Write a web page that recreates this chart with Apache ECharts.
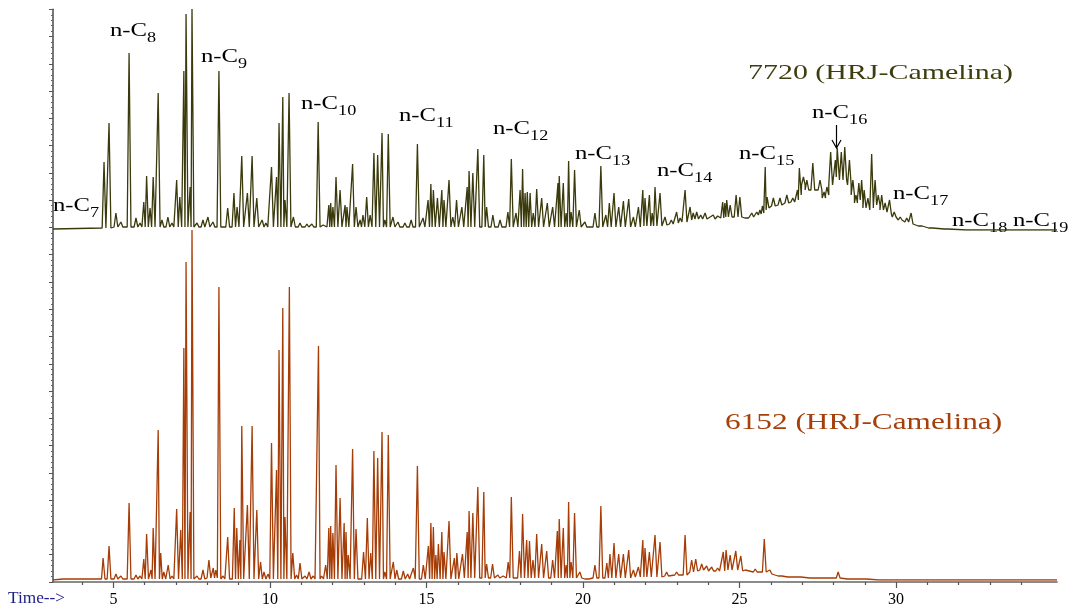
<!DOCTYPE html>
<html>
<head>
<meta charset="utf-8">
<title>GC traces - HRJ-Camelina</title>
<script src="https://cdn.jsdelivr.net/npm/echarts@6/dist/echarts.min.js"></script>
<style>
  html, body { margin: 0; padding: 0; background: #fff; }
  #chart { width: 1074px; height: 610px; }
</style>
</head>
<body>
<div id="chart"></div>
<script>
// retention time window (min)
const timeMin = 3.07
const timeMax = 35.14
const majorTicks = [5, 10, 15, 20, 25, 30]
const minorTicks = [4, 6, 7, 8, 9, 11, 12, 13, 14, 16, 17, 18, 19, 21, 22, 23, 24, 26, 27, 28, 29, 31, 32, 33, 34]

// peaks of 7720 (HRJ-Camelina): [time, top, baseline under the peak]
const upperPeaks = [
  [4.70, 68, 2], [4.86, 107, 2], [5.08, 17, 3], [5.24, 8, 3], [5.50, 177, 3], [5.72, 12, 3], [5.85, 7, 3],
  [5.97, 28, 3], [6.06, 54, 3], [6.17, 22, 3], [6.27, 53, 3], [6.43, 137, 3], [6.55, 10, 3], [6.74, 13, 3],
  [6.87, 7, 3], [7.02, 50, 3], [7.12, 33, 3], [7.25, 159, 3], [7.32, 216, 3], [7.45, 43, 3], [7.51, 221, 3],
  [7.67, 7, 3], [7.86, 10, 3], [8.02, 13, 3], [8.18, 8, 3], [8.37, 159, 3], [8.65, 22, 3], [8.85, 37, 3],
  [8.95, 23, 3], [9.10, 74, 3], [9.28, 37, 3], [9.43, 74, 3], [9.58, 32, 3], [9.75, 10, 3], [9.87, 7, 3],
  [10.05, 63, 3], [10.21, 53, 3], [10.29, 107, 3], [10.41, 133, 3], [10.48, 30, 3], [10.61, 137, 3],
  [10.75, 13, 3], [10.96, 7, 3], [11.18, 6, 3], [11.34, 6, 3], [11.54, 108, 3], [11.70, 5, 3],
  [11.88, 25, 3], [11.94, 27, 3], [12.01, 23, 3], [12.11, 53, 3], [12.24, 40, 3], [12.40, 25, 3],
  [12.46, 23, 3], [12.64, 66, 3], [12.75, 23, 3], [12.88, 10, 3], [12.97, 15, 3], [13.09, 33, 3],
  [13.20, 15, 3], [13.32, 77, 3], [13.44, 75, 3], [13.58, 97, 3], [13.67, 10, 3], [13.78, 96, 3],
  [13.93, 13, 3], [14.09, 8, 3], [14.31, 7, 3], [14.51, 10, 3], [14.71, 86, 3], [14.89, 12, 3],
  [15.05, 30, 3], [15.14, 46, 3], [15.22, 40, 3], [15.35, 32, 3], [15.49, 40, 3], [15.56, 30, 3],
  [15.72, 50, 3], [15.84, 13, 3], [15.96, 30, 3], [16.13, 23, 3], [16.30, 43, 3], [16.36, 59, 3],
  [16.48, 57, 3], [16.64, 81, 3], [16.83, 75, 3], [16.92, 23, 3], [17.12, 15, 3], [17.35, 10, 3],
  [17.60, 18, 3], [17.71, 71, 3], [17.86, 17, 3], [17.99, 40, 3], [18.07, 61, 3], [18.15, 37, 3],
  [18.22, 38, 3], [18.31, 37, 3], [18.41, 17, 3], [18.52, 41, 3], [18.68, 32, 3], [18.86, 27, 3],
  [19.03, 23, 3], [19.20, 47, 3], [19.24, 54, 3], [19.37, 47, 3], [19.46, 17, 3], [19.54, 69, 3],
  [19.62, 18, 3], [19.73, 60, 3], [19.88, 20, 3], [20.06, 8, 3], [20.38, 17, 3], [20.57, 64, 3],
  [20.73, 15, 3], [20.84, 27, 3], [20.99, 37, 3], [21.14, 23, 3], [21.29, 29, 3], [21.46, 31, 3],
  [21.61, 13, 3], [21.77, 23, 3], [21.91, 40, 4], [21.98, 32, 4], [22.12, 35, 4], [22.21, 17, 4],
  [22.30, 43, 4], [22.46, 37, 4], [22.62, 13, 5], [22.82, 10, 6], [22.99, 18, 7], [23.10, 12, 8],
  [23.26, 40, 8], [23.42, 23, 10], [23.52, 17, 11], [23.63, 18, 11], [23.76, 15, 11], [23.90, 17, 11],
  [24.06, 13, 11], [24.16, 15, 11], [24.30, 14, 12], [24.46, 28, 12], [24.53, 27, 13], [24.59, 30, 13],
  [24.70, 25, 13], [24.89, 35, 13], [25.01, 33, 13], [25.23, 14, 12], [25.39, 17, 13], [25.55, 18, 15],
  [25.65, 20, 16], [25.73, 24, 17], [25.82, 63, 20], [25.88, 33, 22], [26.08, 32, 24], [26.29, 32, 25],
  [26.51, 35, 27], [26.70, 32, 28], [26.85, 40, 30], [26.91, 62, 35], [27.04, 53, 45], [27.15, 50, 40],
  [27.34, 67, 40], [27.57, 50, 40], [27.70, 38, 32], [27.79, 43, 35], [27.91, 78, 45], [28.06, 70, 53],
  [28.12, 82, 55], [28.25, 78, 50], [28.36, 83, 50], [28.51, 70, 45], [28.62, 50, 35], [28.72, 35, 27],
  [28.81, 47, 30], [28.90, 50, 30], [28.98, 40, 22], [29.10, 32, 20], [29.22, 76, 22], [29.33, 50, 25],
  [29.43, 35, 25], [29.54, 35, 20], [29.65, 27, 18], [29.79, 30, 16], [29.94, 18, 13], [30.13, 13, 10],
  [30.34, 12, 8], [30.48, 17, 6], [30.77, 5, 4], [31.10, 4, 2], [31.60, 2, 1], [32.30, 1, 0]
]

// peaks of 6152 (HRJ-Camelina): [time, top, baseline under the peak]
const lowerPeaks = [
  [3.45, 3, 1], [3.75, 2, 1], [4.57, 3, 1], [4.67, 22, 1], [4.86, 34, 1], [5.08, 6, 1], [5.24, 4, 1],
  [5.50, 77, 1], [5.72, 5, 1], [5.85, 4, 1], [5.97, 21, 1], [6.06, 46, 1], [6.20, 10, 1], [6.27, 52, 1],
  [6.43, 150, 1], [6.51, 27, 1], [6.61, 8, 1], [6.75, 15, 1], [6.87, 4, 1], [7.02, 71, 1], [7.15, 50, 1],
  [7.25, 232, 1], [7.32, 318, 1], [7.45, 68, 1], [7.51, 350, 1], [7.67, 4, 1], [7.86, 10, 1], [8.05, 20, 2],
  [8.19, 12, 2], [8.27, 10, 2], [8.37, 293, 1], [8.50, 4, 1], [8.65, 43, 1], [8.86, 72, 1], [8.94, 52, 1],
  [9.04, 40, 1], [9.10, 154, 1], [9.28, 75, 1], [9.43, 154, 1], [9.58, 70, 1], [9.70, 18, 1], [9.81, 8, 1],
  [9.94, 6, 1], [10.05, 137, 1], [10.21, 110, 1], [10.29, 230, 1], [10.41, 272, 1], [10.48, 63, 1],
  [10.62, 293, 1], [10.73, 27, 1], [10.85, 5, 1], [10.96, 17, 1], [11.12, 4, 1], [11.25, 8, 1],
  [11.38, 4, 1], [11.55, 234, 1], [11.65, 4, 1], [11.78, 15, 1], [11.88, 52, 1], [11.94, 54, 1],
  [12.01, 47, 1], [12.11, 115, 1], [12.24, 82, 1], [12.37, 57, 1], [12.43, 48, 1], [12.50, 25, 1],
  [12.64, 131, 1], [12.75, 51, 1], [12.87, 3, 1], [12.99, 28, 1], [13.11, 62, 1], [13.22, 27, 1],
  [13.32, 129, 1], [13.44, 122, 1], [13.58, 148, 1], [13.67, 8, 1], [13.78, 145, 1], [13.94, 18, 1],
  [14.05, 10, 1], [14.26, 9, 1], [14.40, 6, 1], [14.58, 12, 1], [14.71, 114, 1], [14.90, 15, 1],
  [15.06, 34, 1], [15.14, 57, 1], [15.22, 53, 1], [15.30, 25, 1], [15.38, 36, 1], [15.49, 48, 1],
  [15.56, 28, 1], [15.72, 59, 1], [15.89, 22, 1], [15.97, 27, 1], [16.15, 26, 2], [16.30, 48, 2],
  [16.36, 69, 2], [16.48, 67, 2], [16.64, 93, 2], [16.83, 88, 2], [16.92, 16, 2], [17.11, 16, 2],
  [17.28, 5, 2], [17.45, 4, 2], [17.61, 18, 2], [17.71, 83, 2], [17.97, 29, 2], [18.07, 66, 2],
  [18.20, 40, 2], [18.29, 39, 2], [18.40, 20, 2], [18.52, 46, 2], [18.68, 36, 2], [18.84, 29, 2],
  [19.03, 20, 2], [19.18, 49, 2], [19.24, 61, 2], [19.37, 52, 2], [19.46, 15, 2], [19.54, 78, 2],
  [19.62, 18, 2], [19.73, 67, 2], [19.90, 8, 2], [20.12, 2, 1], [20.38, 15, 2], [20.57, 74, 2],
  [20.76, 17, 2], [20.86, 26, 2], [20.99, 37, 2], [21.14, 26, 2], [21.29, 26, 2], [21.46, 30, 2],
  [21.61, 10, 3], [21.77, 13, 3], [21.91, 40, 3], [21.98, 32, 3], [22.12, 28, 3], [22.30, 45, 3],
  [22.46, 38, 3], [22.67, 8, 4], [22.99, 8, 5], [23.26, 45, 5], [23.47, 20, 8], [23.60, 21, 9],
  [23.79, 16, 10], [23.95, 14, 9], [24.11, 13, 9], [24.30, 12, 9], [24.48, 28, 9], [24.57, 30, 10],
  [24.70, 25, 10], [24.88, 29, 10], [25.04, 24, 9], [25.18, 10, 8], [25.50, 11, 8], [25.79, 41, 8],
  [25.97, 10, 6], [26.29, 5, 4], [26.60, 5, 3], [26.90, 5, 3], [27.30, 3, 2], [27.70, 3, 2],
  [28.15, 8, 2], [28.50, 3, 1], [29.00, 2, 1], [29.50, 1, 0]
]

// n-alkane labels on the upper trace: [carbon number, left px, baseline px]
const alkaneLabels = [
  [7, 53, 212], [8, 110, 37], [9, 201, 63], [10, 301, 110], [11, 399, 122], [12, 493, 135],
  [13, 575, 160], [14, 657, 177], [15, 739, 160], [16, 812, 119], [17, 893, 200], [18, 952, 227], [19, 1013, 227]
]

const serif = '"Liberation Serif", "DejaVu Serif", serif'
const upperColor = '#3a3a0c'
const lowerColor = '#a63c06'
const peakHalfWidth = 0.06

// turn the peak list into a polyline: each peak is a narrow spike standing on its own baseline
function buildTrace(peaks, startLevel) {
  const pts = [[timeMin, startLevel]]
  peaks.forEach((p, i) => {
    const prev = i > 0 ? peaks[i - 1][0] : timeMin
    const next = i < peaks.length - 1 ? peaks[i + 1][0] : timeMax
    const left = Math.max(p[0] - peakHalfWidth, (prev + p[0]) / 2)
    const right = Math.min(p[0] + peakHalfWidth, (p[0] + next) / 2)
    pts.push([left, p[2]], [p[0], p[1]], [right, p[2]])
  })
  pts.push([timeMax, 0])
  return pts
}

const chart = echarts.init(document.getElementById('chart'))

const hiddenX = (grid) => ({
  type: 'value', gridIndex: grid, min: timeMin, max: timeMax,
  show: false, splitLine: { show: false }
})

const graphics = []
alkaneLabels.forEach(([n, x, base]) => {
  graphics.push({
    type: 'text',
    x: x,
    y: base - 6,
    scaleX: 1.3,
    style: {
      text: '{m|n-C}{s|' + n + '}',
      fill: '#000',
      align: 'left',
      verticalAlign: 'middle',
      textAlign: 'left',
      textVerticalAlign: 'middle',
      rich: {
        m: { font: '19px ' + serif, fill: '#000' },
        s: { font: '14px ' + serif, fill: '#000', padding: [14, 0, 0, 0] }
      }
    }
  })
})
// arrow pointing at n-C16
graphics.push({
  type: 'polyline',
  shape: { points: [[836.5, 125], [836.5, 148]] },
  style: { stroke: '#000', lineWidth: 1.2, fill: null }
})
graphics.push({
  type: 'polyline',
  shape: { points: [[832, 140], [836.5, 148], [841, 140]] },
  style: { stroke: '#000', lineWidth: 1.2, fill: null }
})
graphics.push({
  type: 'text', x: 748, y: 73, scaleX: 1.36,
  style: { text: '7720 (HRJ-Camelina)', font: '22px ' + serif, fill: '#3d3d10', verticalAlign: 'middle', textVerticalAlign: 'middle' }
})
graphics.push({
  type: 'text', x: 725, y: 423, scaleX: 1.36,
  style: { text: '6152 (HRJ-Camelina)', font: '23px ' + serif, fill: '#a5400c', verticalAlign: 'middle', textVerticalAlign: 'middle' }
})
graphics.push({
  type: 'text', x: 8, y: 599, scaleX: 1.08,
  style: { text: 'Time-->', font: '16px ' + serif, fill: '#1c1c8a', verticalAlign: 'middle', textVerticalAlign: 'middle' }
})

const option = {
  animation: false,
  backgroundColor: '#fff',
  grid: [
    { left: 53, right: 17, top: 9.3, bottom: 28 },   // frame with the axes
    { left: 53, right: 17, top: 8, bottom: 380 },    // 7720 trace
    { left: 53, right: 17, top: 230, bottom: 30 }    // 6152 trace
  ],
  xAxis: [
    {
      type: 'value', gridIndex: 0, min: timeMin, max: timeMax,
      axisLine: { lineStyle: { color: '#666', width: 1.6 } },
      axisTick: { customValues: majorTicks, length: 6, lineStyle: { color: '#555', width: 1.2 } },
      axisLabel: { customValues: majorTicks, fontFamily: serif, fontSize: 16, color: '#000', margin: 10 },
      splitLine: { show: false }
    },
    {
      type: 'value', gridIndex: 0, min: timeMin, max: timeMax, position: 'bottom',
      axisLine: { show: false },
      axisTick: { customValues: minorTicks, length: 3, lineStyle: { color: '#555', width: 1.2 } },
      axisLabel: { show: false },
      splitLine: { show: false }
    },
    hiddenX(1),
    hiddenX(2)
  ],
  yAxis: [
    {
      type: 'value', gridIndex: 0, min: 0, max: 21, interval: 1,
      axisLine: { show: true, lineStyle: { color: '#555', width: 1.6 } },
      axisTick: { show: true, length: 4, lineStyle: { color: '#555' } },
      minorTick: { show: true, splitNumber: 5, length: 2, lineStyle: { color: '#666' } },
      axisLabel: { show: false },
      splitLine: { show: false }
    },
    { type: 'value', gridIndex: 1, min: 0, max: 222, show: false, splitLine: { show: false } },
    { type: 'value', gridIndex: 2, min: 0, max: 350, show: false, splitLine: { show: false } }
  ],
  series: [
    {
      name: '7720 (HRJ-Camelina)',
      type: 'line',
      xAxisIndex: 2,
      yAxisIndex: 1,
      data: buildTrace(upperPeaks, 1),
      showSymbol: false,
      lineStyle: { color: upperColor, width: 1.3 }
    },
    {
      name: '6152 (HRJ-Camelina)',
      type: 'line',
      xAxisIndex: 3,
      yAxisIndex: 2,
      data: buildTrace(lowerPeaks, 0),
      showSymbol: false,
      lineStyle: { color: lowerColor, width: 1.3 }
    }
  ],
  graphic: graphics
}

chart.setOption(option)
</script>
</body>
</html>
